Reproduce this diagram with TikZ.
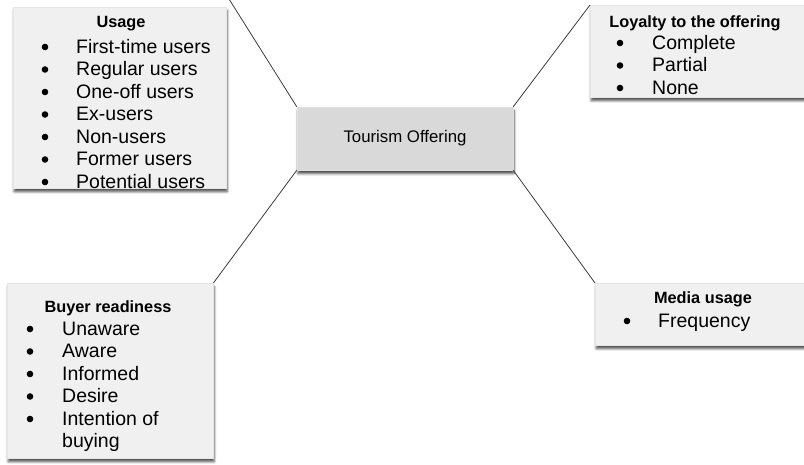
\documentclass[tikz,border=0pt]{standalone}
\usepackage{fontspec}
\setmainfont{Liberation Sans}
\usetikzlibrary{shadows.blur,positioning,calc}
\definecolor{grayi}{RGB}{240,240,240}
\definecolor{grayii}{RGB}{217,217,217}
\definecolor{linei}{RGB}{60,60,60}
\tikzset{
      mysegblock/.style 2 args={
        fill=grayi,
        draw=black!10,
        anchor=north west,
        minimum width=#1,
        minimum height=#2,
        inner sep=0pt,
        blur shadow={shadow xshift=1pt,shadow yshift=-3.5pt,shadow blur radius=2.5pt,shadow opacity=70}
      },
      mycenterblock/.style={
        fill=grayii,
        draw=black!12,
        minimum width=216pt,
        minimum height=63pt,
        font=\fontsize{16.8}{20}\selectfont,
        blur shadow={shadow xshift=1pt,shadow yshift=-3.5pt,shadow blur radius=2.5pt,shadow opacity=75}
      },
      mytitle/.style={
        anchor=base,
        inner sep=0pt,
        font=\fontsize{16.3}{19}\selectfont\bfseries
      },
      mylist/.style={
        anchor=base west,
        inner sep=0pt,
        font=\fontsize{19.5}{22.5}\selectfont
      },
      myline/.style={
        draw=linei,
        line width=0.8pt
      }
    }
\newcommand{\seglist}[1]{\begin{tabular}[t]{@{}l@{}}#1\end{tabular}}

\begin{document}
\begin{tikzpicture}[x=1pt,y=-1pt]

  \useasboundingbox (0,0) rectangle (804,464);

  %Centre
  \node[mycenterblock] (offering) at (405,138.5) {Tourism Offering};

  %Usage
  \node[mysegblock={213pt}{181pt}] (usage) at (13,7) {};
  \node[mytitle] (usageTitle) at (121,27) {Usage};
  \node[mylist] (usageList) at (76,53) {\seglist{%
      First-time users\\ Regular users\\ One-off users\\ Ex-users\\
      Non-users\\ Former users\\ Potential users}};
  \foreach \i in {0,...,6}
    \fill (45,47+22.5*\i) circle (3.3);

  %Loyalty
  \node[mysegblock={216pt}{92pt}] (loyalty) at (590,5) {};
  \node[mytitle] (loyaltyTitle) at (695,27) {Loyalty to the offering};
  \node[mylist] (loyaltyList) at (652,49) {\seglist{%
      Complete\\ Partial\\ None}};
  \foreach \i in {0,...,2}
    \fill (620,43+22.5*\i) circle (3.3);

  %Buyer readiness
  \node[mysegblock={206pt}{175pt}] (buyer) at (7,283) {};
  \node[mytitle] (buyerTitle) at (108,312) {Buyer readiness};
  \node[mylist] (buyerList) at (62,335) {\seglist{%
      Unaware\\ Aware\\ Informed\\ Desire\\ Intention of\\ buying}};
  \foreach \i in {0,...,4}
    \fill (30,329+22.5*\i) circle (3.3);

  %Media usage
  \node[mysegblock={211pt}{62pt}] (media) at (595,283) {};
  \node[mytitle] (mediaTitle) at (703,303) {Media usage};
  \node[mylist] (mediaList) at (658,327) {\seglist{Frequency}};
  \fill (627,321) circle (3.3);

  \coordinate (usageTip) at (229,-1);
  \draw[myline] (offering.north west) -- (usageTip);
  \draw[myline] (offering.north east) -- (loyalty.north west);
  \draw[myline] (offering.south west) -- (buyer.north east);
  \draw[myline] (offering.south east) -- (media.north west);

\end{tikzpicture}
\end{document}
